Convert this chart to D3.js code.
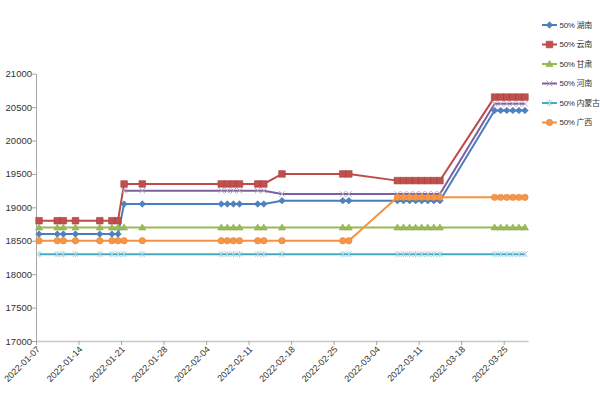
<!DOCTYPE html>
<html>

<head>
  <meta charset="utf-8">
  <title></title>
  <script src="https://cdnjs.cloudflare.com/ajax/libs/d3/7.8.5/d3.min.js"></script>
  <style>
    body { margin: 0; background: #fff; }
    text { font-family: "Liberation Sans", Arial, "Noto Sans CJK SC", sans-serif; }
  </style>
</head>

<body>
<script>
const width = 600;
const height = 399;

const dates = [
	'2022-01-07', '2022-01-10', '2022-01-11', '2022-01-13', '2022-01-17', '2022-01-19', '2022-01-20', '2022-01-21', '2022-01-24',
	'2022-02-06', '2022-02-07', '2022-02-08', '2022-02-09', '2022-02-12', '2022-02-13', '2022-02-16', '2022-02-26', '2022-02-27',
	'2022-03-07', '2022-03-08', '2022-03-09', '2022-03-10', '2022-03-11', '2022-03-12', '2022-03-13', '2022-03-14',
	'2022-03-23', '2022-03-24', '2022-03-25', '2022-03-26', '2022-03-27', '2022-03-28'
];

const hunan = [
	18600, 18600, 18600, 18600, 18600, 18600, 18600, 19050, 19050,
	19050, 19050, 19050, 19050, 19050, 19050, 19100, 19100, 19100,
	19100, 19100, 19100, 19100, 19100, 19100, 19100, 19100,
	20450, 20450, 20450, 20450, 20450, 20450
];
const yunnan = [
	18800, 18800, 18800, 18800, 18800, 18800, 18800, 19350, 19350,
	19350, 19350, 19350, 19350, 19350, 19350, 19500, 19500, 19500,
	19400, 19400, 19400, 19400, 19400, 19400, 19400, 19400,
	20650, 20650, 20650, 20650, 20650, 20650
];
const gansu = [
	18700, 18700, 18700, 18700, 18700, 18700, 18700, 18700, 18700,
	18700, 18700, 18700, 18700, 18700, 18700, 18700, 18700, 18700,
	18700, 18700, 18700, 18700, 18700, 18700, 18700, 18700,
	18700, 18700, 18700, 18700, 18700, 18700
];
const henan = [
	null, null, null, null, null, null, null, 19250, 19250,
	19250, 19250, 19250, 19250, 19250, 19250, 19200, 19200, 19200,
	19200, 19200, 19200, 19200, 19200, 19200, 19200, 19200,
	20550, 20550, 20550, 20550, 20550, 20550
];
const neimenggu = [
	18300, 18300, 18300, 18300, 18300, 18300, 18300, 18300, 18300,
	18300, 18300, 18300, 18300, 18300, 18300, 18300, 18300, 18300,
	18300, 18300, 18300, 18300, 18300, 18300, 18300, 18300,
	18300, 18300, 18300, 18300, 18300, 18300
];
const guangxi = [
	18500, 18500, 18500, 18500, 18500, 18500, 18500, 18500, 18500,
	18500, 18500, 18500, 18500, 18500, 18500, 18500, 18500, 18500,
	19150, 19150, 19150, 19150, 19150, 19150, 19150, 19150,
	19150, 19150, 19150, 19150, 19150, 19150
];

const seriesNames = ['50% 湖南', '50% 云南', '50% 甘肃', '50% 河南', '50% 内蒙古', '50% 广西'];
const seriesValues = [hunan, yunnan, gansu, henan, neimenggu, guangxi];

const xTickLabels = ['2022-01-07', '2022-01-14', '2022-01-21', '2022-01-28', '2022-02-04', '2022-02-11',
	'2022-02-18', '2022-02-25', '2022-03-04', '2022-03-11', '2022-03-18', '2022-03-25'];
const yTicks = [17000, 17500, 18000, 18500, 19000, 19500, 20000, 20500, 21000];

// look of each series, in legend order
const styles = [
	{line: '#4a7ebb', fill: '#4f81bd', stroke: '#4a7ebb', shape: 'diamond'},
	{line: '#be4b48', fill: '#c0504d', stroke: '#a8423f', shape: 'square'},
	{line: '#98b954', fill: '#9bbb59', stroke: '#8aab4c', shape: 'triangle'},
	{line: '#7d60a0', fill: 'none', stroke: '#b4a7c8', shape: 'x'},
	{line: '#46aac5', fill: 'none', stroke: '#a6d6e3', shape: 'star'},
	{line: '#f69240', fill: '#f79646', stroke: '#e3833a', shape: 'circle'}
];

const parse = d3.timeParse('%Y-%m-%d');
const half = (s) => d3.timeHour.offset(parse(s), 12);

const svg = d3.select('body').append('svg')
	.attr('width', width)
	.attr('height', height);

const xScale = d3.scaleTime()
	.domain([parse('2022-01-07'), parse('2022-03-29')])
	.range([36, 528]);

const yScale = d3.scaleLinear()
	.domain([17000, 21000])
	.range([341, 73.7]);

const xAxis = d3.axisBottom(xScale)
	.tickValues(xTickLabels.map(parse))
	.tickFormat(d3.timeFormat('%Y-%m-%d'))
	.tickSize(4)
	.tickSizeOuter(0);

const yAxis = d3.axisLeft(yScale)
	.tickValues(yTicks)
	.tickFormat(d3.format('d'))
	.tickSize(4)
	.tickSizeOuter(0);

const gy = svg.append('g')
	.attr('transform', 'translate(36 0)')
	.call(yAxis);
gy.select('.domain').attr('stroke', '#a6a6a6');
gy.selectAll('.tick line').attr('stroke', '#a6a6a6');
gy.selectAll('.tick text')
	.attr('x', -4)
	.attr('font-size', 9.5)
	.attr('fill', '#333');

const gx = svg.append('g')
	.attr('transform', 'translate(0 341)')
	.call(xAxis);
gx.select('.domain').attr('stroke', '#c8c8c8').attr('stroke-width', 1.5);
gx.selectAll('.tick line').attr('stroke', '#a6a6a6');
gx.selectAll('.tick text')
	.attr('font-size', 9)
	.attr('fill', '#333')
	.attr('text-anchor', 'end')
	.attr('dy', 0)
	.attr('y', 0)
	.attr('transform', 'translate(4 9) rotate(-45)');

const markerPath = (shape) => {
	if (shape === 'diamond') return 'M0,-3.3L3.3,0L0,3.3L-3.3,0Z';
	if (shape === 'square') return 'M-3.3,-3.3H3.3V3.3H-3.3Z';
	if (shape === 'triangle') return 'M0,-3.5L3.5,2.6H-3.5Z';
	if (shape === 'circle') return d3.symbol(d3.symbolCircle, 32)();
	if (shape === 'x') return 'M-2.8,-2.8L2.8,2.8M-2.8,2.8L2.8,-2.8';
	return 'M-2.8,-2.8L2.8,2.8M-2.8,2.8L2.8,-2.8M0,-3.3L0,3.3';
};

const line = d3.line()
	.defined((d) => d.v !== null)
	.x((d) => xScale(d.t))
	.y((d) => yScale(d.v));

seriesValues.forEach((vals, i) => {
	const st = styles[i];
	const pts = vals.map((v, j) => ({t: half(dates[j]), v: v}));
	const g = svg.append('g');

	g.append('path')
		.datum(pts)
		.attr('fill', 'none')
		.attr('stroke', st.line)
		.attr('stroke-width', 2)
		.attr('d', line);

	g.selectAll('path.mk')
		.data(pts.filter((d) => d.v !== null))
		.enter()
		.append('path')
		.attr('class', 'mk')
		.attr('d', markerPath(st.shape))
		.attr('transform', (d) => 'translate(' + xScale(d.t) + ' ' + yScale(d.v) + ')')
		.attr('fill', st.fill)
		.attr('stroke', st.stroke)
		.attr('stroke-width', st.fill === 'none' ? 1 : 0.6);
});

// legend
const legend = svg.append('g')
	.selectAll('g')
	.data(seriesNames)
	.enter()
	.append('g')
	.attr('transform', (d, i) => 'translate(542 ' + (25 + i * 19.5) + ')');

legend.append('line')
	.attr('x1', 0)
	.attr('x2', 15)
	.attr('stroke', (d, i) => styles[i].line)
	.attr('stroke-width', 2);

legend.append('path')
	.attr('d', (d, i) => markerPath(styles[i].shape))
	.attr('transform', 'translate(7.5 0)')
	.attr('fill', (d, i) => styles[i].fill)
	.attr('stroke', (d, i) => styles[i].stroke)
	.attr('stroke-width', (d, i) => styles[i].fill === 'none' ? 1 : 0.6);

legend.append('text')
	.attr('x', 17.5)
	.attr('dy', '0.35em')
	.attr('font-size', 8)
	.attr('letter-spacing', -0.3)
	.attr('fill', '#333')
	.text((d) => d);
</script>

</body>

</html>
